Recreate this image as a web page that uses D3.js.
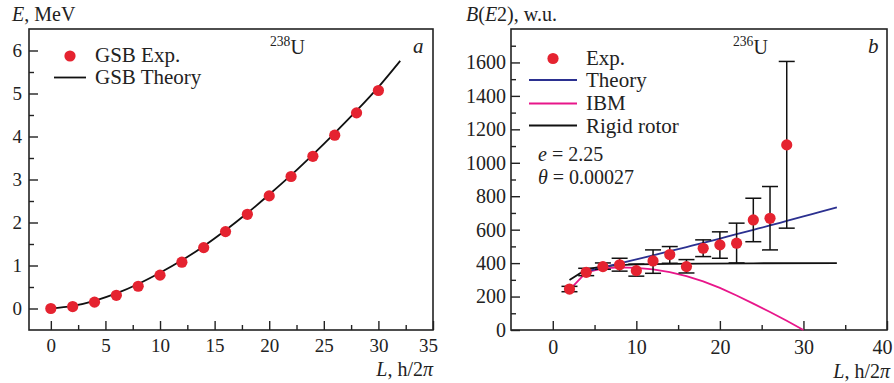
<!DOCTYPE html>
<html>
<head>
<meta charset="utf-8">
<script src="https://cdn.jsdelivr.net/npm/d3@7"></script>
<style>
  body { margin: 0; background: #fff; }
  svg { display: block; font-family: "Liberation Serif", "DejaVu Serif", serif; }
</style>
</head>
<body>
<svg id="chart" width="894" height="383"></svg>
<script>
// --- panel a: 238U ground state band energies ---
const gsbL = [0, 2, 4, 6, 8, 10, 12, 14, 16, 18, 20, 22, 24, 26, 28, 30];
const gsbExp = [0, 0.045, 0.148, 0.307, 0.518, 0.776, 1.077, 1.416, 1.788, 2.191, 2.619, 3.07, 3.54, 4.03, 4.55, 5.07];
const gsbTheoryL = [0, 2, 4, 6, 8, 10, 12, 14, 16, 18, 20, 22, 24, 26, 28, 30, 32];
const gsbTheory = [0, 0.06, 0.18, 0.35, 0.57, 0.83, 1.12, 1.45, 1.82, 2.22, 2.65, 3.1, 3.58, 4.08, 4.6, 5.15, 5.76];

// --- panel b: 236U B(E2) ---
const be2L = [2, 4, 6, 8, 10, 12, 14, 16, 18, 20, 22, 24, 26, 28];
const be2Exp = [245, 345, 379, 390, 355, 413, 451, 379, 489, 509, 519, 658, 668, 1107];
const be2Lo = [229, 325, 363, 352, 322, 339, 399, 341, 439, 429, 401, 528, 479, 609];
const be2Hi = [261, 369, 401, 429, 394, 479, 499, 421, 539, 587, 639, 788, 858, 1606];

const theoryL = [4, 6, 8, 10, 12, 14, 16, 18, 20, 22, 24, 26, 28, 30, 32, 34];
const theoryB = [350, 375, 399, 423, 447, 471, 496, 521, 547, 573, 599, 625, 652, 679, 706, 733];

const ibmL = [2, 4, 6, 8, 10, 12, 14, 16, 18, 20, 22, 24, 26, 28, 30];
const ibmB = [240, 345, 368, 375, 371, 362, 346, 322, 291, 252, 206, 158, 108, 55, 0];

const rigidL = [2, 4, 6, 8, 10, 12, 14, 18, 24, 34];
const rigidB = [299, 362, 381, 388, 392, 394, 395, 397, 399, 400];

const red = "#e52330", blue = "#2b3090", pink = "#e8168a";

const svg = d3.select("#chart");

function drawFrame(x, y, opt) {
    const [x0, x1] = x.range();
    const [y0, y1] = y.range();

    // minor ticks
    svg.append("g").attr("transform", `translate(0,${y0})`)
        .call(d3.axisBottom(x).tickValues(opt.xMinor).tickSize(-5).tickFormat(""))
        .call(g => g.select(".domain").remove());
    svg.append("g").attr("transform", `translate(${x0},0)`)
        .call(d3.axisLeft(y).tickValues(opt.yMinor).tickSize(-5).tickFormat(""))
        .call(g => g.select(".domain").remove());

    // major ticks + labels
    const xa = svg.append("g").attr("transform", `translate(0,${y0})`)
        .call(d3.axisBottom(x).tickValues(opt.xTicks).tickSize(-9)
            .tickPadding(opt.xPad).tickFormat(d3.format("d")));
    const ya = svg.append("g").attr("transform", `translate(${x0},0)`)
        .call(d3.axisLeft(y).tickValues(opt.yTicks).tickSize(-9)
            .tickPadding(opt.yPad).tickFormat(d3.format("d")));
    [xa, ya].forEach(a => {
        a.select(".domain").remove();
        a.selectAll("text")
            .attr("fill", "#222")
            .style("font-family", "Liberation Serif, DejaVu Serif, serif")
            .style("font-size", opt.tickFont + "px");
    });
    // last x label sits a bit inside, like the original
    xa.selectAll(".tick").filter(d => d === opt.xTicks[opt.xTicks.length - 1])
        .select("text").attr("dx", -5);
    svg.selectAll(".tick line").attr("stroke", "#222").attr("stroke-width", 1.4);

    svg.append("rect")
        .attr("x", x0).attr("y", y1)
        .attr("width", x1 - x0).attr("height", y0 - y1)
        .attr("fill", "none").attr("stroke", "#222").attr("stroke-width", 1.6);
}

function label(x, y, parts, size, anchor) {
    const t = svg.append("text")
        .attr("x", x).attr("y", y)
        .attr("font-size", size)
        .attr("fill", "#222")
        .attr("text-anchor", anchor || "start");
    parts.forEach(p => {
        const s = t.append("tspan").text(p.t);
        if (p.i) s.attr("font-style", "italic");
        if (p.sup) s.attr("font-size", size * 0.68).attr("dy", -8);
        if (p.down) s.attr("dy", 8);
    });
    return t;
}

// ============ panel a ============
const xa = d3.scaleLinear().domain([-2, 35]).range([29, 433]);
const ya = d3.scaleLinear().domain([-0.5, 6.5]).range([330, 29]);

drawFrame(xa, ya, {
    xTicks: d3.range(0, 36, 5), xMinor: d3.range(2.5, 34, 5),
    yTicks: d3.range(0, 7, 1), yMinor: d3.range(0.5, 6, 1),
    xPad: 9, yPad: 7, tickFont: 19
});

svg.append("path")
    .datum(gsbTheoryL.map((l, i) => [l, gsbTheory[i]]))
    .attr("fill", "none").attr("stroke", "#111").attr("stroke-width", 1.8)
    .attr("d", d3.line().x(d => xa(d[0])).y(d => ya(d[1])).curve(d3.curveMonotoneX));

svg.append("g").selectAll("circle")
    .data(gsbL.map((l, i) => [l, gsbExp[i]]))
    .join("circle")
    .attr("cx", d => xa(d[0])).attr("cy", d => ya(d[1]))
    .attr("r", 5.6).attr("fill", red);

// legend a
svg.append("circle").attr("cx", 70).attr("cy", 56).attr("r", 5.6).attr("fill", red);
label(95, 62, [{ t: "GSB Exp." }], 21);
svg.append("line").attr("x1", 54).attr("x2", 86).attr("y1", 77.5).attr("y2", 77.5)
    .attr("stroke", "#111").attr("stroke-width", 1.8);
label(95, 84, [{ t: "GSB Theory" }], 21);

label(270, 54, [{ t: "238", sup: true }, { t: "U", down: true }], 20);
label(413, 53, [{ t: "a", i: true }], 21);

label(12, 21, [{ t: "E", i: true }, { t: ", MeV" }], 20);
label(433, 376, [{ t: "L", i: true }, { t: ", h/2" }, { t: "π", i: true }], 20, "end");

// ============ panel b ============
const xb = d3.scaleLinear().domain([-5, 40]).range([511, 887]);
const yb = d3.scaleLinear().domain([0, 1800]).range([330, 29]);

drawFrame(xb, yb, {
    xTicks: d3.range(0, 41, 10), xMinor: d3.range(5, 40, 10),
    yTicks: d3.range(0, 1601, 200), yMinor: d3.range(100, 1800, 200),
    xPad: 10, yPad: 5, tickFont: 20
});

const lineB = d3.line().x(d => xb(d[0])).y(d => yb(d[1]));

svg.append("path")
    .datum(rigidL.map((l, i) => [l, rigidB[i]]))
    .attr("fill", "none").attr("stroke", "#111").attr("stroke-width", 1.8)
    .attr("d", lineB);
svg.append("path")
    .datum(ibmL.map((l, i) => [l, ibmB[i]]))
    .attr("fill", "none").attr("stroke", pink).attr("stroke-width", 1.8)
    .attr("d", lineB);
svg.append("path")
    .datum(theoryL.map((l, i) => [l, theoryB[i]]))
    .attr("fill", "none").attr("stroke", blue).attr("stroke-width", 1.8)
    .attr("d", lineB.curve(d3.curveMonotoneX));

// error bars
const errs = svg.append("g").attr("stroke", "#111").attr("stroke-width", 1.5);
be2L.forEach((l, i) => {
    const cx = xb(l);
    errs.append("line").attr("x1", cx).attr("x2", cx)
        .attr("y1", yb(be2Lo[i])).attr("y2", yb(be2Hi[i]));
    [be2Lo[i], be2Hi[i]].forEach(v => {
        errs.append("line").attr("x1", cx - 8).attr("x2", cx + 8)
            .attr("y1", yb(v)).attr("y2", yb(v));
    });
});

svg.append("g").selectAll("circle")
    .data(be2L.map((l, i) => [l, be2Exp[i]]))
    .join("circle")
    .attr("cx", d => xb(d[0])).attr("cy", d => yb(d[1]))
    .attr("r", 5.6).attr("fill", red);

// legend b
svg.append("circle").attr("cx", 553).attr("cy", 58.5).attr("r", 5.6).attr("fill", red);
label(586, 65, [{ t: "Exp." }], 21);
[[80, blue, "Theory", 87], [103.5, pink, "IBM", 110], [125.5, "#111", "Rigid rotor", 132.5]].forEach(r => {
    svg.append("line").attr("x1", 529).attr("x2", 577).attr("y1", r[0]).attr("y2", r[0])
        .attr("stroke", r[1]).attr("stroke-width", 1.8);
    label(586, r[3], [{ t: r[2] }], 21);
});

label(538, 161, [{ t: "e", i: true }, { t: " = 2.25" }], 20);
label(538, 184, [{ t: "θ", i: true }, { t: " = 0.00027" }], 20);

label(733, 54, [{ t: "236", sup: true }, { t: "U", down: true }], 20);
label(868, 53, [{ t: "b", i: true }], 21);

label(466, 21, [{ t: "B", i: true }, { t: "(" }, { t: "E", i: true }, { t: "2), w.u." }], 20);
label(890, 378, [{ t: "L", i: true }, { t: ", h/2" }, { t: "π", i: true }], 20, "end");
</script>
</body>
</html>
